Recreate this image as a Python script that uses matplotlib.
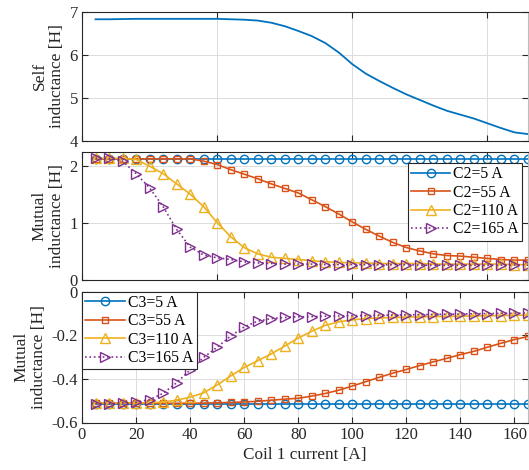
import matplotlib
matplotlib.use("Agg")
import matplotlib.pyplot as plt

plt.rcParams['font.family'] = ['Liberation Serif', 'DejaVu Serif']
plt.rcParams['axes.unicode_minus'] = False
plt.rcParams['font.size'] = 11

current = [5, 10, 15, 20, 25, 30, 35, 40, 45, 50, 55, 60, 65, 70, 75, 80, 85, 90,
           95, 100, 105, 110, 115, 120, 125, 130, 135, 140, 145, 150, 155, 160, 165]

self_L = [6.82, 6.82, 6.825, 6.83, 6.83, 6.83, 6.83, 6.83, 6.83, 6.83, 6.82, 6.81, 6.79,
          6.74, 6.66, 6.55, 6.43, 6.27, 6.05, 5.78, 5.56, 5.39, 5.23, 5.08, 4.95, 4.82,
          4.70, 4.61, 4.52, 4.41, 4.30, 4.20, 4.16]

c2_5 = [2.13] * 33
c2_55 = [2.13, 2.13, 2.13, 2.13, 2.13, 2.13, 2.13, 2.13, 2.09, 2.03, 1.94, 1.86, 1.78,
         1.69, 1.61, 1.53, 1.41, 1.29, 1.16, 1.02, 0.89, 0.77, 0.66, 0.57, 0.51, 0.46,
         0.43, 0.42, 0.40, 0.38, 0.36, 0.35, 0.35]
c2_110 = [2.14, 2.14, 2.14, 2.12, 2.00, 1.87, 1.69, 1.51, 1.29, 1.01, 0.76, 0.57, 0.46,
          0.40, 0.38, 0.36, 0.34, 0.32, 0.31, 0.30, 0.30, 0.29, 0.29, 0.29, 0.29, 0.28,
          0.28, 0.28, 0.28, 0.28, 0.28, 0.27, 0.27]
c2_165 = [2.14, 2.14, 2.09, 1.87, 1.62, 1.29, 0.89, 0.58, 0.44, 0.39, 0.36, 0.32, 0.30,
          0.29, 0.28, 0.28, 0.28, 0.27, 0.27, 0.27, 0.27, 0.27, 0.27, 0.27, 0.26, 0.26,
          0.26, 0.26, 0.26, 0.26, 0.26, 0.26, 0.26]

c3_5 = [-0.513] * 33
c3_55 = [-0.512, -0.512, -0.512, -0.512, -0.512, -0.512, -0.512, -0.512, -0.511, -0.510,
         -0.508, -0.506, -0.503, -0.498, -0.493, -0.489, -0.479, -0.467, -0.452, -0.433,
         -0.413, -0.393, -0.374, -0.357, -0.339, -0.322, -0.306, -0.289, -0.274, -0.255,
         -0.237, -0.220, -0.206]
c3_110 = [-0.510, -0.510, -0.510, -0.510, -0.510, -0.506, -0.498, -0.484, -0.464, -0.428,
          -0.387, -0.348, -0.317, -0.286, -0.250, -0.213, -0.182, -0.155, -0.139, -0.130,
          -0.124, -0.121, -0.119, -0.118, -0.116, -0.115, -0.114, -0.113, -0.112, -0.111,
          -0.110, -0.109, -0.108]
c3_165 = [-0.513, -0.513, -0.510, -0.507, -0.495, -0.467, -0.418, -0.359, -0.302, -0.255,
          -0.204, -0.162, -0.136, -0.124, -0.119, -0.116, -0.115, -0.113, -0.112, -0.111,
          -0.110, -0.109, -0.108, -0.107, -0.106, -0.105, -0.104, -0.103, -0.102, -0.101,
          -0.100, -0.100, -0.099]

labels_c2 = ['C2=5 A', 'C2=55 A', 'C2=110 A', 'C2=165 A']
labels_c3 = ['C3=5 A', 'C3=55 A', 'C3=110 A', 'C3=165 A']

colors = ['#0072BD', '#D95319', '#EDB120', '#7E2F8E']
markers = ['o', 's', '^', '>']
msizes = [6, 4.8, 6.8, 6.5]
styles = ['-', '-', '-', ':']
dark = '#262626'

W, H = 529, 470
fig = plt.figure(figsize=(W / 100, H / 100), dpi=100)

def frac(top, bottom, left=82, right=528):
    return [left / W, 1 - bottom / H, (right - left) / W, (bottom - top) / H]

ax1 = fig.add_axes(frac(11.5, 141))
ax2 = fig.add_axes(frac(152, 280))
ax3 = fig.add_axes(frac(291.5, 422.5))

for ax in (ax1, ax2, ax3):
    ax.set_xlim(0, 165)
    ax.grid(True, color='#dcdcdc', linewidth=0.7)
    ax.set_axisbelow(True)
    ax.tick_params(direction='in', top=True, right=True, length=4, width=0.8,
                   colors=dark, labelcolor=dark, labelsize=12, pad=3)
    for name, sp in ax.spines.items():
        sp.set_color(dark)
        sp.set_linewidth(0.8)
    ax.spines['right'].set_color('#bdbdbd')

ylab_kw = dict(fontsize=12.5, color=dark, linespacing=1.15, labelpad=3)

# Top: self inductance
ax1.plot(current, self_L, color=colors[0], linewidth=1.3)
ax1.set_ylim(4, 7)
ax1.set_yticks([4, 5, 6, 7])
ax1.set_xticks([0, 50, 100, 150])
ax1.set_xticklabels([])
ax1.set_ylabel('Self\ninductance [H]', **ylab_kw)

leg_kw = dict(borderaxespad=0, fancybox=False, framealpha=1, edgecolor=dark,
              fontsize=11.5, handlelength=2.45, labelspacing=0.12, handletextpad=0.25,
              borderpad=0.25, borderaxespad_=None) if False else None

def legend(ax, **kw):
    lg = ax.legend(borderaxespad=0, fancybox=False, framealpha=1, edgecolor=dark,
                   fontsize=11.3, handlelength=2.5, labelspacing=0.15,
                   handletextpad=0.2, borderpad=0.22, **kw)
    lg.get_frame().set_linewidth(0.8)
    return lg

# Middle: mutual C2
for vals, c, m, ms, ls, lab in zip([c2_5, c2_55, c2_110, c2_165], colors, markers,
                                   msizes, styles, labels_c2):
    ax2.plot(current, vals, color=c, marker=m, markersize=ms, linestyle=ls,
             linewidth=1.2, markerfacecolor='none', markeredgewidth=1.0, label=lab)
ax2.set_ylim(0, 2.25)
ax2.set_yticks([0, 1, 2])
ax2.set_xticks([0, 50, 100, 150])
ax2.set_xticklabels([])
ax2.set_ylabel('Mutual\ninductance [H]', **ylab_kw)
legend(ax2, loc='upper right', bbox_to_anchor=(0.9875, 0.915))

# Bottom: mutual C3
for vals, c, m, ms, ls, lab in zip([c3_5, c3_55, c3_110, c3_165], colors, markers,
                                   msizes, styles, labels_c3):
    ax3.plot(current, vals, color=c, marker=m, markersize=ms, linestyle=ls,
             linewidth=1.2, markerfacecolor='none', markeredgewidth=1.0, label=lab)
ax3.set_ylim(-0.6, 0)
ax3.set_yticks([-0.6, -0.4, -0.2, 0])
ax3.set_yticklabels(['-0.6', '-0.4', '-0.2', '0'])
ax3.set_xticks(list(range(0, 161, 20)))
ax3.set_xlabel('Coil 1 current [A]', fontsize=12.3, color=dark, labelpad=3)
ax3.set_ylabel('Mutual\ninductance [H]', **ylab_kw)
legend(ax3, loc='upper left', bbox_to_anchor=(0, 1))

fig.savefig('out.png', dpi=100)
